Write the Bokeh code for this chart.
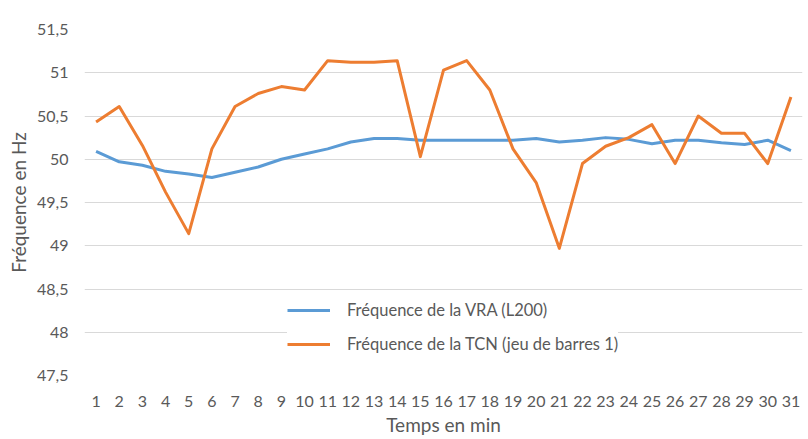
from bokeh.plotting import figure
from bokeh.models import FixedTicker, CustomJSTickFormatter, Legend, LegendItem, Range1d
from bokeh.embed import file_html
from bokeh.resources import INLINE

minutes = list(range(1, 32))
vra = [50.09, 49.97, 49.93, 49.86, 49.83, 49.79, 49.85, 49.91, 50.00, 50.06,
       50.12, 50.20, 50.24, 50.24, 50.22, 50.22, 50.22, 50.22, 50.22, 50.24,
       50.20, 50.22, 50.25, 50.23, 50.18, 50.22, 50.22, 50.19, 50.17, 50.22, 50.10]
tcn = [50.43, 50.61, 50.16, 49.62, 49.14, 50.12, 50.61, 50.76, 50.84, 50.80,
       51.14, 51.12, 51.12, 51.14, 50.03, 51.03, 51.14, 50.80, 50.12, 49.73,
       48.97, 49.95, 50.15, 50.25, 50.40, 49.95, 50.50, 50.30, 50.30, 49.95, 50.72]
y_ticks = [47.5, 48, 48.5, 49, 49.5, 50, 50.5, 51, 51.5]
series_names = ["Fréquence de la VRA (L200)", "Fréquence de la TCN (jeu de barres 1)"]
x_title = "Temps en min"
y_title = "Fréquence en Hz"

FONT = "Lato"
GRAY = "#595959"

p = figure(width=808, height=439, output_backend="svg", toolbar_location=None,
           x_range=Range1d(0.5, 31.5), y_range=Range1d(47.5, 51.5),
           min_border_left=84, min_border_right=6, min_border_top=29, min_border_bottom=64)
p.outline_line_color = None
p.xgrid.grid_line_color = None
p.ygrid.grid_line_color = "#D9D9D9"
p.ygrid.grid_line_width = 1

p.yaxis.ticker = FixedTicker(ticks=y_ticks)
p.yaxis.formatter = CustomJSTickFormatter(code="return tick.toString().replace('.', ',');")
p.xaxis.ticker = FixedTicker(ticks=minutes)

for ax in (p.xaxis[0], p.yaxis[0]):
    ax.axis_line_color = None
    ax.major_tick_line_color = None
    ax.minor_tick_line_color = None
    ax.major_tick_out = 0
    ax.major_tick_in = 0
    ax.minor_tick_out = 0
    ax.minor_tick_in = 0
    ax.major_label_text_font = FONT
    ax.major_label_text_font_size = "16px"
    ax.major_label_text_color = GRAY
    ax.axis_label_text_font = FONT
    ax.axis_label_text_font_size = "19px"
    ax.axis_label_text_font_style = "normal"
    ax.axis_label_text_color = GRAY

p.xaxis.axis_label = x_title
p.yaxis.axis_label = y_title
p.xaxis.major_label_standoff = 20
p.xaxis.axis_label_standoff = 3
p.yaxis.major_label_standoff = 16
p.yaxis.axis_label_standoff = 4

r1 = p.line(minutes, vra, line_color="#5B9BD5", line_width=3, line_join="round")
r2 = p.line(minutes, tcn, line_color="#ED7D31", line_width=3, line_join="round")

legend = Legend(items=[LegendItem(label=series_names[0], renderers=[r1]),
                       LegendItem(label=series_names[1], renderers=[r2])],
                location=(203, 21))
legend.border_line_color = None
legend.background_fill_color = "white"
legend.background_fill_alpha = 1
legend.label_text_font = FONT
legend.label_text_font_size = "16.5px"
legend.label_text_color = GRAY
legend.glyph_width = 43
legend.label_standoff = 17
legend.spacing = 14
legend.padding = 5
legend.margin = 0
p.add_layout(legend, "center")

open("out.html", "w").write(file_html(p, INLINE))
